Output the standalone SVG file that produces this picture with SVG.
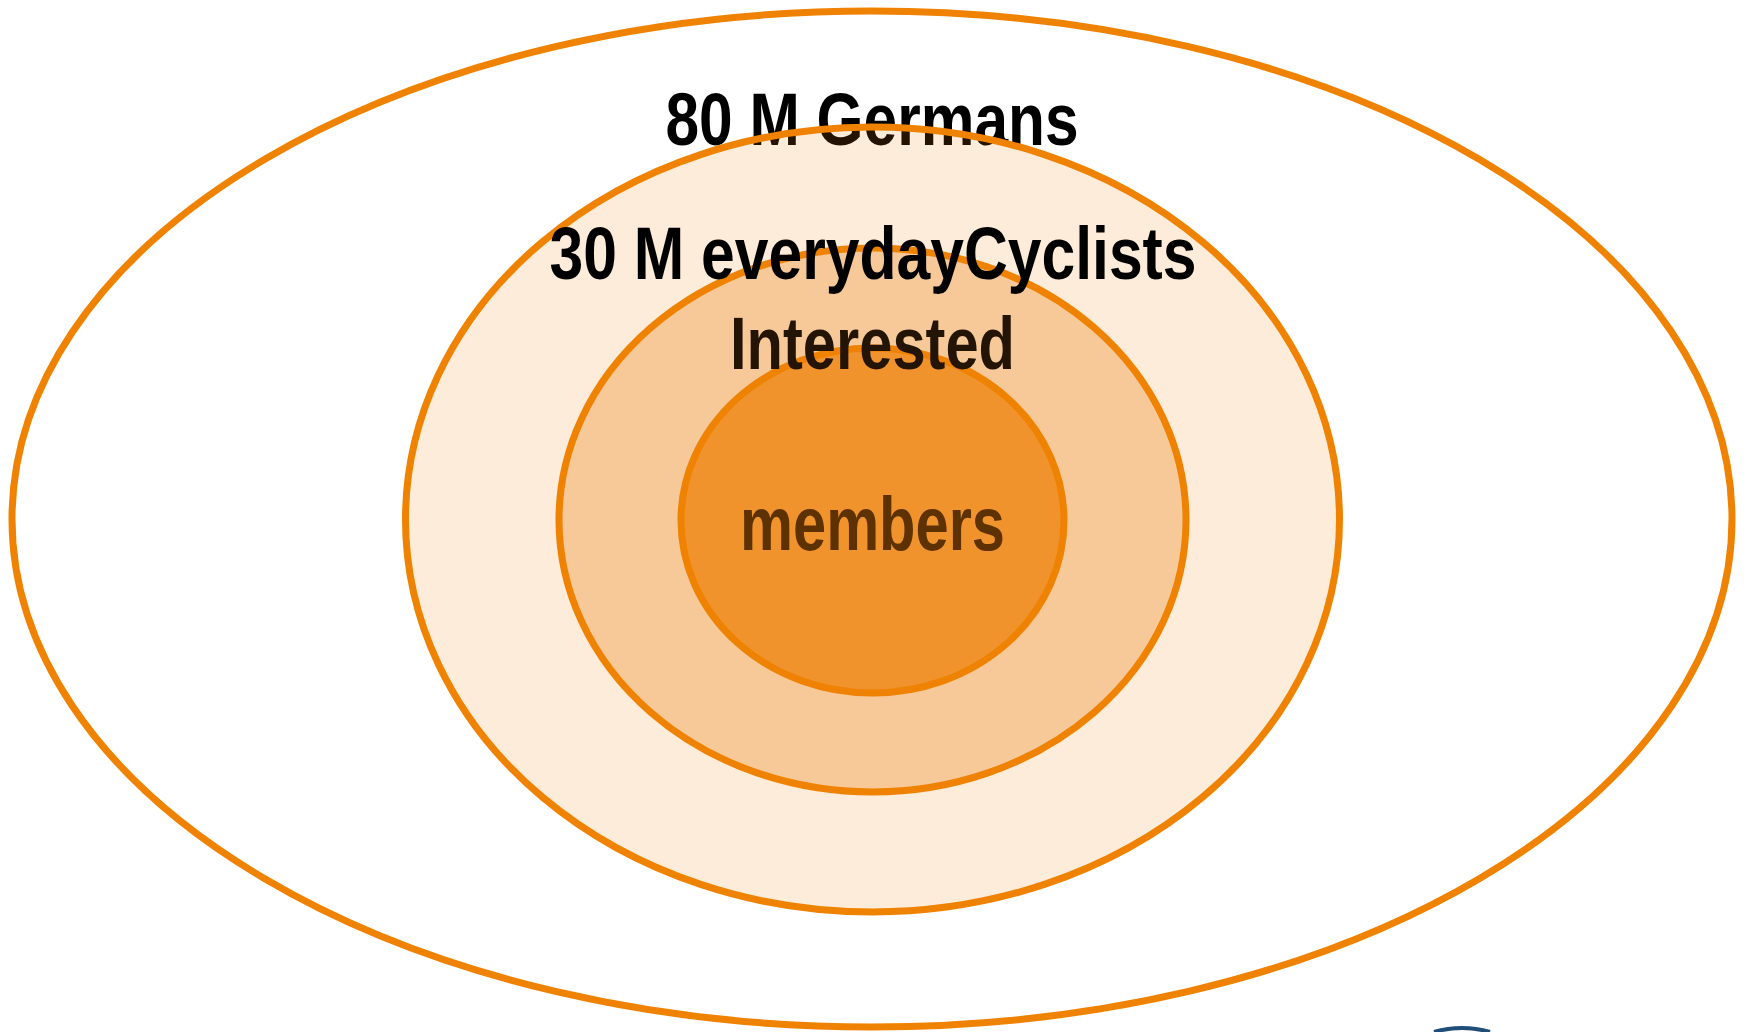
<svg xmlns="http://www.w3.org/2000/svg" width="1746" height="1032" viewBox="0 0 1746 1032">
  <style>
    .ring { stroke: #ef8200; stroke-width: 7; }
    .lbl { font-family: "Liberation Sans", Arial, sans-serif; font-weight: bold; font-size: 74px; text-anchor: middle; }
  </style>
  <rect x="0" y="0" width="1746" height="1032" fill="#ffffff"/>
  <g id="germans">
    <ellipse class="ring" cx="872" cy="519" rx="860" ry="508" fill="#ffffff"/>
    <text class="lbl" x="872" y="145" fill="#000000" textLength="413" lengthAdjust="spacingAndGlyphs">80 M Germans</text>
  </g>
  <g id="cyclists">
    <ellipse class="ring" cx="872.5" cy="519.5" rx="467" ry="392.5" fill="#ef8200" fill-opacity="0.15"/>
  </g>
  <g id="interested">
    <ellipse class="ring" cx="872.5" cy="520" rx="313.5" ry="272" fill="#f7c998"/>
  </g>
  <g id="members">
    <ellipse class="ring" cx="872.5" cy="520.5" rx="191.5" ry="172.5" fill="#f0932d"/>
  </g>
  <g id="labels">
    <text class="lbl" x="873" y="279" fill="#000000" textLength="647" lengthAdjust="spacingAndGlyphs">30 M everydayCyclists</text>
    <text class="lbl" x="872.5" y="369" fill="#231405" textLength="285" lengthAdjust="spacingAndGlyphs">Interested</text>
    <text class="lbl" x="872.5" y="550" fill="#5e3200" style="font-size:76px" textLength="265" lengthAdjust="spacingAndGlyphs">members</text>
  </g>
  <path d="M1434 1032 Q1462 1024 1490 1032" fill="none" stroke="#1f4e79" stroke-width="4"/>
</svg>
